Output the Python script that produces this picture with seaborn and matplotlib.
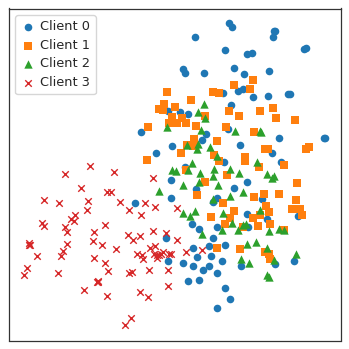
import matplotlib
matplotlib.use("Agg")
import matplotlib.pyplot as plt
import pandas as pd
import seaborn as sns

clients = ["Client 0", "Client 1", "Client 2", "Client 3"]
colors = ["#1f77b4", "#ff7f0e", "#2ca02c", "#d62728"]
markers = ["o", "s", "^", "x"]

client0 = [(141,132.3),(156.3,153),(172.3,146.2),(168,111),(180,112),(188.3,114.3),(206.3,134),(201.8,140),(185.2,167.5),
 (229.3,23.3),(231.7,26.7),(195.3,36.7),(275.3,31.3),(273.7,31.3),(272.7,37),(224.7,49.7),(247,54.3),(252,53),
 (305.7,48.3),(304.3,49.3),(183.3,69.3),(185.3,73.3),(204.3,73.3),(233.7,68.3),(244,74),(269,71.3),(222.7,92.7),
 (238.3,91.3),(242.7,88.7),(252.7,97),(267.7,96),(287.7,93.7),(289.7,94),(231.3,105),(228.3,129),(239.7,144.7),
 (279,137.7),(325.3,138.3),(324,138),(272.3,153.5),(224.3,162.2),(281,162.3),
 (246.7,181.7),(195.7,189),(234,188.5),(217.3,197.7),(213.3,202.3),(261.7,199.3),(246.7,213.7),(266.5,219),(298.3,215.7),
 (191.7,223.7),(199,228.7),(217,226.8),(247.5,227.3),(212.7,237.8),(193.3,247.7),(208.7,246.3),(225.3,245.3),(197,256.7),
 (211.3,255.7),(222.3,261),(183.3,263.3),(193.3,265.7),(209.3,266),(203.3,270),(216.7,272.7),(240.7,266.3),(274.7,264.3),
 (294,261.3),(187.7,280.7),(199,279.7),(225.3,287.7),(230,299.3),(217.3,307.7),(135,203),(170.7,180),(170.7,198.3),
 (165.7,238),(168,261)]

client1 = [(166.7,92),(148.3,126.8),(147.3,160.2),(158.7,108.7),(164.3,104.3),(163.3,110.2),(174.5,106.7),(172.3,117.2),
 (169,122.7),(190.7,100.5),(213,92),(219,93),(181.7,117.7),(205,116.3),(176.7,122.8),(186,122.7),(195.7,126.3),(193.5,139),
 (193.3,146),(186.5,145.5),(181,152.7),(217.3,141.3),(214.3,154.8),(219,160.8),(186.2,170),
 (234.3,85),(252.7,80.3),(250.3,88.7),(229.3,111.3),(259.7,111),(272.7,107.7),(239,115.7),(275.7,118.3),(294.7,119.7),
 (226,126.7),(253.7,132),(264.7,149),(268,149.3),(244.8,157.3),(244.8,161.5),(258.8,167.3),(284.2,165),(305.7,149),(309,147.3),
 (227.3,174.8),(205.3,181.7),(297.2,183),(197,195),(223.2,202.7),(254.3,197),(264,194.3),(279,193.7),(295.7,199.7),
 (234,210.7),(266.2,206),(269,212.5),(291.7,208.7),(300,209.3),(301.7,214.7),(211,217),(230.3,218.5),(253.2,218.3),(260,214.8),
 (224.8,224.2),(242.7,227),(258.2,225.7),(270,224.3),(283.7,230.3),(216.7,247.7),(240,249),(265,251.7),(268.7,254),(270.3,259.3)]

client2 = [(203.5,104.3),(198,112.5),(204.7,118.3),(167,127.3),(201.2,129.7),(186.7,145.3),(198.3,143.7),(197,149.5),(209.7,147.3),
 (217,156),(191.7,163.2),(171.7,170),(176.3,170.7),(187.7,170),(200.2,172.8),(214,169.2),(235,131),(259.7,130.7),(261,132),
 (257.3,161.7),(230,168.8),(238.5,173.5),(267.4,174),(274.2,176.5),(271.5,178.5),(183.3,184.7),(198.5,181.8),(213,176),
 (217.5,185),(243,192.5),(230.3,196),(212.5,198.8),(183.3,212.7),(190,215.7),(195,211.3),(222.7,213.3),(259.5,210),
 (232,223.3),(221.7,230),(202,233.7),(237.5,230.2),(242.5,225),(245.5,223.6),(269,231.2),(278.7,228.9),(283.8,230.3),
 (246.7,244),(256,242.3),(267,248.3),(241,258.7),(248.7,262.7),(274.3,260),(295.7,253.7),(267.3,274.7),(268.7,276.7),(159.3,191)]

client3 = [(89.7,166.3),(65,174),(114.3,172.5),(153.3,178.3),(81,188),(44,200.3),(59,203.3),(87.7,200.7),(106.7,192),(110.7,192),
 (120,201.7),(144.7,202.7),(129.3,210.3),(155.3,207.3),(141.3,214.7),(86.7,210.3),(75.3,215),(70.7,218.7),(74,221),(42,223),
 (43.7,225.7),(64.7,227.3),(67,232),(104.7,224.7),(94.3,231.7),(93,241.3),(128.3,234.7),(133.3,240),(140.3,236.5),(153,230.7),
 (166.3,232.8),(102,245),(115.7,249.3),(67,244.3),(29,242.7),(30.3,245.3),(28.7,244.7),(63,251),(61.3,255.7),(37,255.7),
 (94.3,258.3),(105,263.3),(108.3,270.7),(57.7,273),(26.7,268.3),(23.7,274.7),(150.3,247.7),(154.7,245.7),(137,254),(141.7,255.3),
 (143.3,259.3),(154.3,254),(156.7,255),(159.3,255),(161,253.7),(157.3,257.7),(162.7,251.7),(169.3,254.3),(171,254),(149,270.3),
 (168.2,270),(129.3,273.3),(131.7,271.7),(98.3,280.7),(97,281.7),(98.3,282),(84.3,289.7),(106.7,296.3),(140,291.7),(148,297),
 (168,286),(131,317.7),(124.7,325),(177.3,208.2),(177.3,240.5),(186.3,251.7),(202.2,250.2)]

series = [client0, client1, client2, client3]

sns.set_theme(style="white")
plt.rcParams["font.family"] = ["DejaVu Sans"]
fig = plt.figure(figsize=(3.49, 3.49), dpi=100)
ax = fig.add_axes([8.5/349, 8.5/349, 332/349, 332/349])

sizes = {"o": 30, "s": 26, "^": 36, "x": 22}
for name, pts, color, marker in zip(clients, series, colors, markers):
    frame = pd.DataFrame(pts, columns=["x", "y"])
    sns.scatterplot(data=frame, x="x", y="y", color=color, marker=marker,
                    s=sizes[marker], linewidth=1.0 if marker == "x" else 0,
                    label=name, ax=ax)

ax.set_xlim(8.5, 340.5)
ax.set_ylim(340.5, 8.5)
ax.set_xticks([])
ax.set_yticks([])
ax.set_xlabel("")
ax.set_ylabel("")
for s in ax.spines.values():
    s.set_color("#333333")
    s.set_linewidth(0.9)

ax.legend(loc="upper left", fontsize=9.3, frameon=True, borderaxespad=0.5,
          handlelength=1.2, handletextpad=0.33, labelspacing=0.43, borderpad=0.42)
fig.savefig("out.png", dpi=100)
